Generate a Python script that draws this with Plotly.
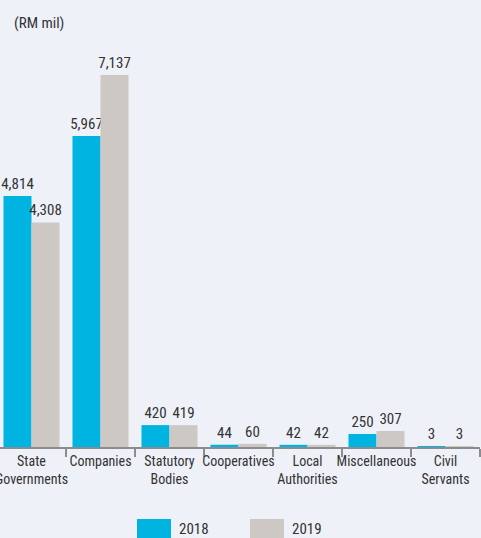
import plotly.graph_objects as go

categories = ["State<br>Governments", "Companies", "Statutory<br>Bodies", "Cooperatives",
              "Local<br>Authorities", "Miscellaneous", "Civil<br>Servants"]
values_2018 = [4814, 5967, 420, 44, 42, 250, 3]
values_2019 = [4308, 7137, 419, 60, 42, 307, 3]
series_names = ["2018", "2019"]
unit_label = "(RM mil)"

BLUE = "#00b4e1"
GREY = "#cdc8c4"
BG = "#eef1f8"
TXT = "#333333"
FONT = "Liberation Sans Narrow, Roboto Condensed, DejaVu Sans Condensed, Arial Narrow, sans-serif"

W, H = 481, 538
ML, MR, MT, MB = 0, 1, 40, 91
plot_w = W - ML - MR
cat_px = 69.0
xmax = 6.5
xmin = xmax - plot_w / cat_px

fig = go.Figure()
for name, vals, col in [(series_names[0], values_2018, BLUE), (series_names[1], values_2019, GREY)]:
    fig.add_trace(go.Bar(
        x=categories, y=vals, name=name, marker=dict(color=col, line=dict(width=0)),
        text=[f"{v:,}" for v in vals], textposition="outside", constraintext="none",
        textfont=dict(family=FONT, size=15, color=TXT), cliponaxis=False,
        showlegend=False,
    ))

fig.update_layout(
    width=W, height=H, margin=dict(l=ML, r=MR, t=MT, b=MB, autoexpand=False),
    paper_bgcolor=BG, plot_bgcolor=BG,
    barmode="group", bargap=0.188, bargroupgap=0,
    font=dict(family=FONT, size=15, color=TXT),
    xaxis=dict(type="category", range=[xmin, xmax], showline=True, linecolor="#8c8c8c",
               linewidth=2, ticks="outside", tickson="boundaries", ticklen=8,
               tickcolor="#8c8c8c", tickwidth=1.5, showgrid=False, tickangle=0,
               automargin=False,
               tickfont=dict(family=FONT, size=14, color=TXT)),
    yaxis=dict(range=[0, 7806], visible=False, showgrid=False, zeroline=False),
)

fig.add_annotation(text=unit_label, xref="paper", yref="paper", x=12 / plot_w, y=1 + (MT - 12) / (H - MT - MB),
                   xanchor="left", yanchor="top", showarrow=False,
                   font=dict(family=FONT, size=15, color=TXT))

ph = H - MT - MB
def py(pix):
    return (H - MB - pix) / ph

legend_items = [(series_names[0], BLUE, 137), (series_names[1], GREY, 250)]
for name, col, x0 in legend_items:
    fig.add_shape(type="rect", xref="paper", yref="paper", x0=x0 / plot_w, x1=(x0 + 34) / plot_w,
                  y0=py(540), y1=py(519), fillcolor=col, line=dict(width=0))
    fig.add_annotation(text=name, xref="paper", yref="paper", x=(x0 + 40) / plot_w, y=py(529),
                       xanchor="left", yanchor="middle", showarrow=False,
                       font=dict(family=FONT, size=15, color=TXT))

fig.write_html("out.html", config={"displayModeBar": False},
               post_script="document.body.style.margin='0';document.body.style.overflow='hidden';")
